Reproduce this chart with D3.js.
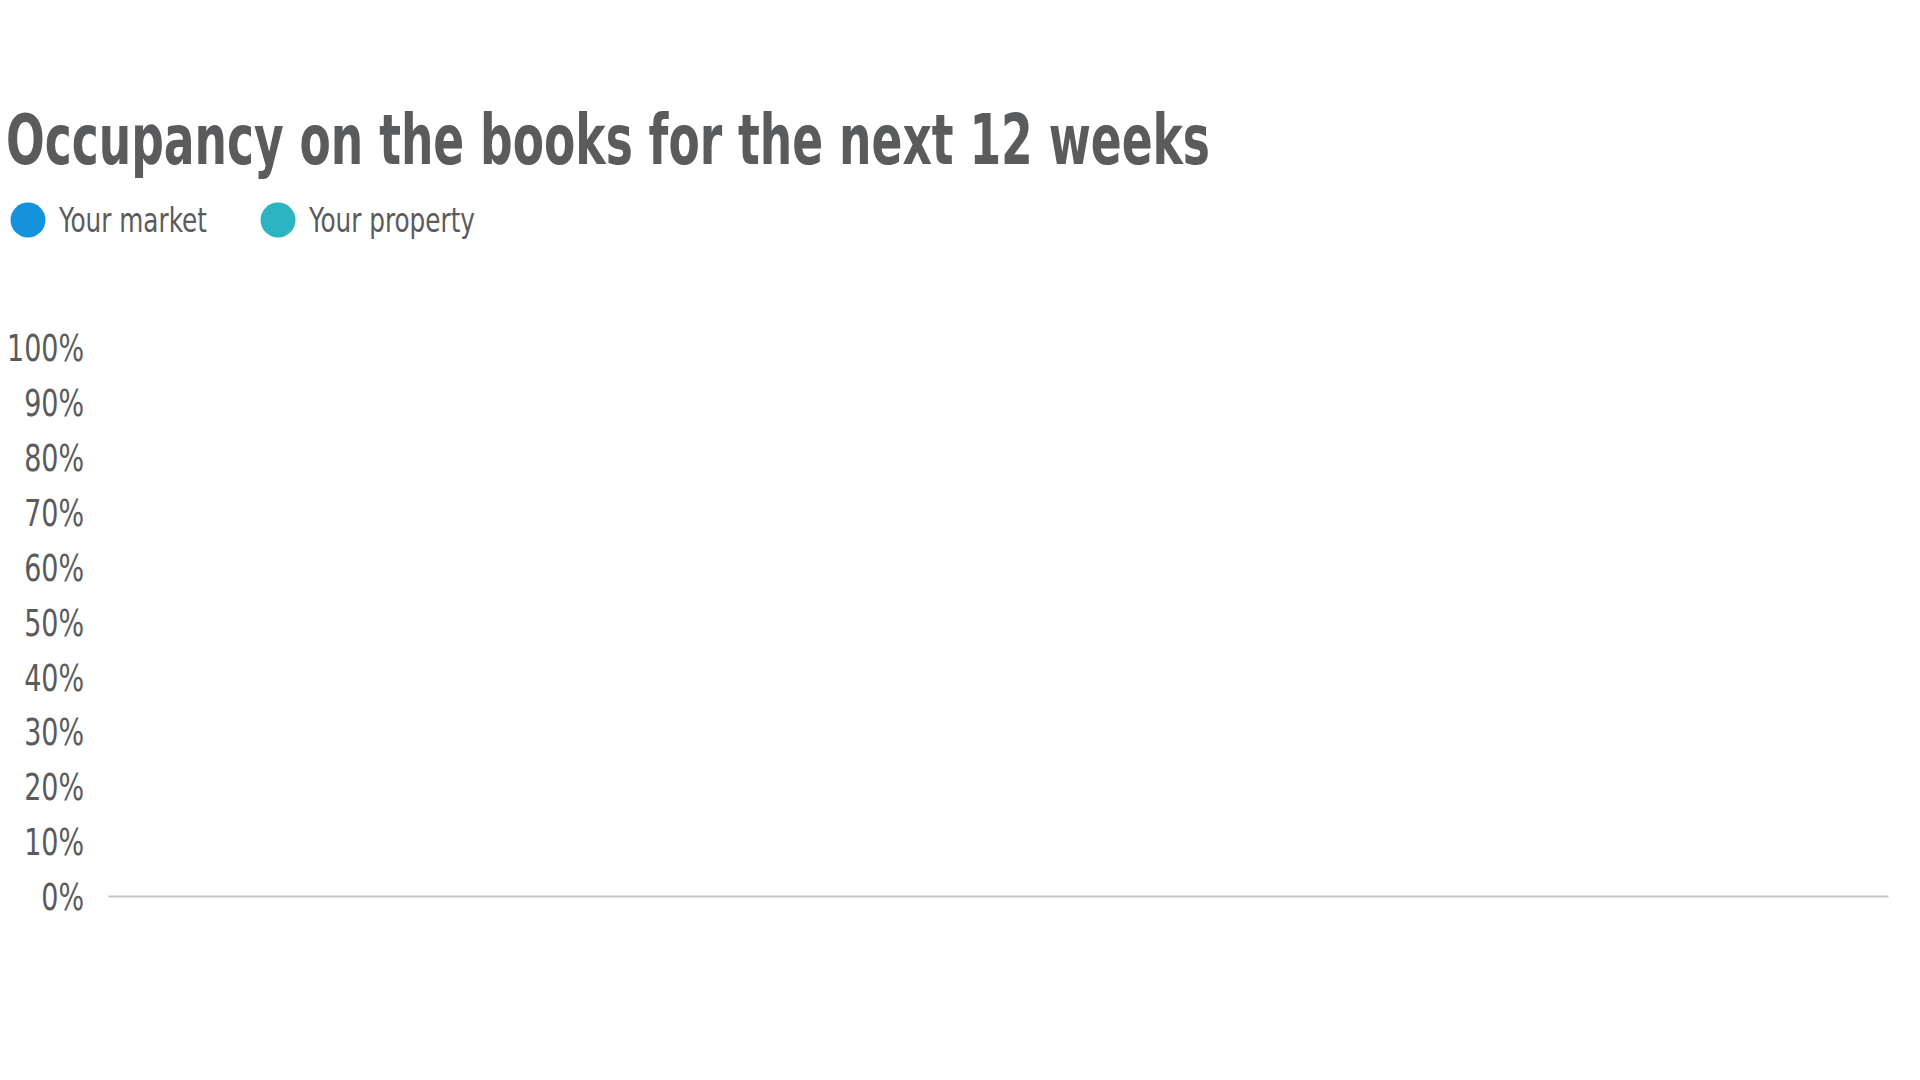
<!DOCTYPE html>
<html>
<head>
<meta charset="utf-8">
<script src="https://cdn.jsdelivr.net/npm/d3@7"></script>
<style>
  html, body { margin: 0; padding: 0; background: #fff; }
  svg { display: block; font-family: "DejaVu Sans", sans-serif; font-stretch: condensed; }
  svg text { font-stretch: condensed; }
</style>
</head>
<body>
<div id="chart"></div>
<script>
// Chart data (the reference shows no bars for the coming weeks)
const title = "Occupancy on the books for the next 12 weeks";
const seriesNames = ["Your market", "Your property"];
const seriesColors = ["#1592dc", "#2cb5c1"];
const weeks = [];          // no week labels shown
const marketValues = [];   // no values shown
const propertyValues = [];
const yTicks = [0, 10, 20, 30, 40, 50, 60, 70, 80, 90, 100];

const width = 1920, height = 1080;
const margin = { top: 347, right: 32, bottom: 184, left: 108 };
const textColor = "#5a5b5d";
const font = "\"DejaVu Sans\", sans-serif";

const svg = d3.select("#chart")
  .append("svg")
  .attr("width", width)
  .attr("height", height);

// squeeze texts horizontally so one reference text gets the wanted width
function squeeze(sel, refWidth) {
  const nodes = sel.nodes();
  const k = refWidth / nodes[nodes.length - 1].getComputedTextLength();
  sel.each(function () {
    d3.select(this)
      .attr("textLength", this.getComputedTextLength() * k)
      .attr("lengthAdjust", "spacingAndGlyphs");
  });
}

// Title
svg.append("text")
  .attr("x", 6)
  .attr("y", 164)
  .attr("fill", textColor)
  .attr("font-size", 69)
  .attr("font-weight", "bold")
  .attr("textLength", 1204)
  .attr("lengthAdjust", "spacingAndGlyphs")
  .text(title);

// Legend
const legendX = [28, 278];
const legend = svg.append("g")
  .selectAll("g")
  .data(seriesNames)
  .join("g")
  .attr("transform", (d, i) => `translate(${legendX[i]},220)`);

legend.append("circle")
  .attr("r", 17.5)
  .attr("fill", (d, i) => seriesColors[i]);

const legendText = legend.append("text")
  .attr("x", 31)
  .attr("y", 12)
  .attr("fill", textColor)
  .attr("font-size", 34)
  .text(d => d);
squeeze(legendText, 166);

// Scales
const x = d3.scaleBand()
  .domain(weeks)
  .range([margin.left, width - margin.right])
  .padding(0.2);

const y = d3.scaleLinear()
  .domain([0, 100])
  .range([height - margin.bottom, margin.top]);

// Bars (empty in the reference)
const xs = d3.scaleBand().domain(seriesNames).range([0, x.bandwidth()]).padding(0.1);
svg.append("g")
  .selectAll("g")
  .data(weeks)
  .join("g")
  .attr("transform", d => `translate(${x(d)},0)`)
  .selectAll("rect")
  .data((d, i) => [marketValues[i], propertyValues[i]])
  .join("rect")
  .attr("x", (d, j) => xs(seriesNames[j]))
  .attr("y", d => y(d))
  .attr("width", xs.bandwidth())
  .attr("height", d => y(0) - y(d))
  .attr("fill", (d, j) => seriesColors[j]);

// Y axis
const yAxis = svg.append("g")
  .attr("transform", `translate(${margin.left},0)`)
  .call(d3.axisLeft(y).tickValues(yTicks).tickSize(0).tickPadding(24).tickFormat(d => d + "%"));
yAxis.select(".domain").remove();
const yText = yAxis.selectAll("text")
  .attr("fill", textColor)
  .attr("font-size", 38)
  .attr("font-family", font)
  .attr("dy", "0.36em");
squeeze(yText, 77);

// X axis baseline
const xAxis = svg.append("g")
  .attr("transform", `translate(0,${y(0)})`)
  .call(d3.axisBottom(x).tickSize(0).tickFormat(""));
xAxis.select(".domain")
  .attr("stroke", "#c6c6c6")
  .attr("stroke-width", 2);
</script>
</body>
</html>
